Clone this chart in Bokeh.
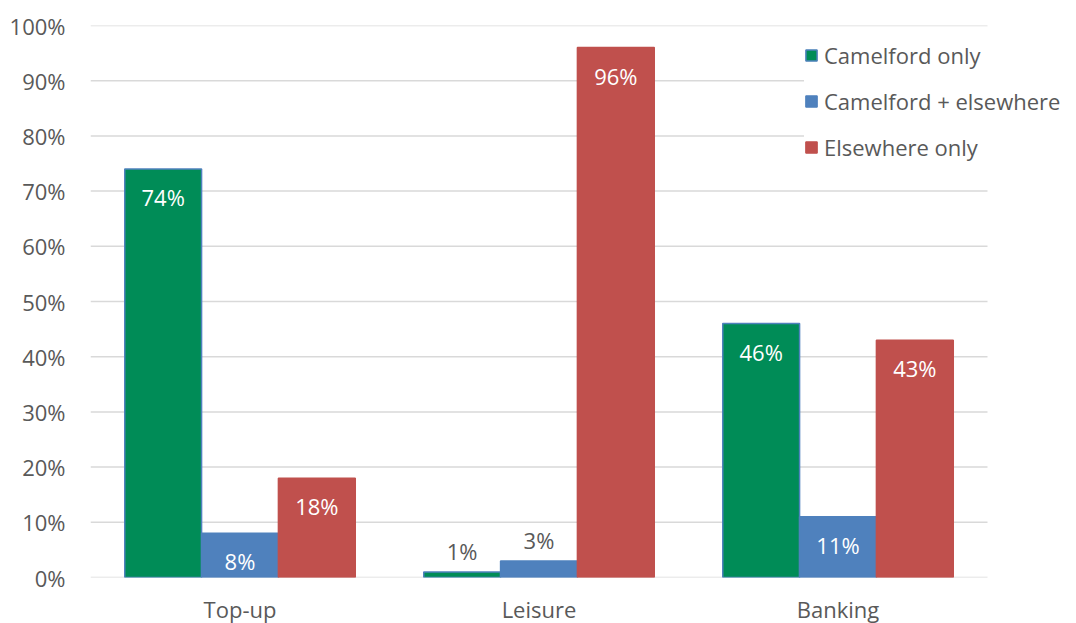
from bokeh.plotting import figure
from bokeh.models import ColumnDataSource, Range1d, NumeralTickFormatter, Legend, LegendItem, FixedTicker
from bokeh.core.properties import value
from bokeh.embed import file_html
from bokeh.resources import INLINE

categories = ["Top-up", "Leisure", "Banking"]
series_names = ["Camelford only", "Camelford + elsewhere", "Elsewhere only"]
camelford_only = [0.74, 0.01, 0.46]
camelford_elsewhere = [0.08, 0.03, 0.11]
elsewhere_only = [0.18, 0.96, 0.43]
y_ticks = [0.0, 0.1, 0.2, 0.3, 0.4, 0.5, 0.6, 0.7, 0.8, 0.9, 1.0]

colors = ["#008C57", "#4F81BD", "#C0504D"]
outline = ["#4F81BD", "#4F81BD", "#C0504D"]
series = [camelford_only, camelford_elsewhere, elsewhere_only]
offsets = [-0.257, 0.0, 0.257]
FONT = "Open Sans"
TXT = "#595959"
FS = "22px"

n = len(categories)
centers = [i + 0.5 for i in range(n)]
FRAME_W = 986
CAT_PX = 299
p = figure(frame_width=FRAME_W, frame_height=552,
           x_range=Range1d(0, FRAME_W / CAT_PX), y_range=Range1d(0, 1),
           output_backend="svg", toolbar_location=None,
           min_border_left=90, min_border_right=0, min_border_top=25, min_border_bottom=40)
p.outline_line_color = None
p.xgrid.grid_line_color = None
p.ygrid.grid_line_color = None

# gridlines spanning the category area only
p.segment(x0=[0] * len(y_ticks), x1=[n] * len(y_ticks), y0=y_ticks, y1=y_ticks,
          line_color="#D9D9D9", line_width=1.5)

for ax in (p.xaxis, p.yaxis):
    ax.axis_line_color = None
    ax.major_tick_line_color = None
    ax.minor_tick_line_color = None
    ax.major_label_text_font = FONT
    ax.major_label_text_color = TXT
    ax.major_label_text_font_size = FS
p.yaxis.ticker = FixedTicker(ticks=y_ticks)
p.yaxis.formatter = NumeralTickFormatter(format="0%")
p.yaxis.major_label_standoff = 19
p.xaxis.ticker = FixedTicker(ticks=centers)
p.xaxis.major_label_overrides = {c: lab for c, lab in zip(centers, categories)}
p.xaxis.major_label_standoff = 10

renderers = []
for name, vals, c, oc, off in zip(series_names, series, colors, outline, offsets):
    inside = [v >= 0.05 for v in vals]
    src = ColumnDataSource(dict(
        x=[cx + off for cx in centers], val=vals,
        lab=[f"{round(v*100)}%" for v in vals],
        loff=[28 if i else -21 for i in inside],
        lcol=["white" if i else TXT for i in inside],
    ))
    r = p.vbar(x="x", top="val", width=0.257, source=src,
               fill_color=c, line_color=oc, line_width=1.5)
    renderers.append((name, r))
    p.text(x="x", y="val", text="lab", source=src,
           y_offset="loff", text_color="lcol", text_align="center", text_baseline="middle",
           text_font=value(FONT), text_font_size=FS)

legend = Legend(items=[LegendItem(label=nm, renderers=[r]) for nm, r in renderers],
                location=(714, 415), orientation="vertical")
legend.background_fill_color = "white"
legend.background_fill_alpha = 1
legend.border_line_color = None
legend.padding = 0
legend.margin = 0
legend.spacing = 16
legend.glyph_width = 14
legend.glyph_height = 14
legend.label_standoff = 6
legend.label_text_font = FONT
legend.label_text_font_size = FS
legend.label_text_color = TXT
p.add_layout(legend, "center")

open("out.html", "w").write(file_html(p, INLINE))
